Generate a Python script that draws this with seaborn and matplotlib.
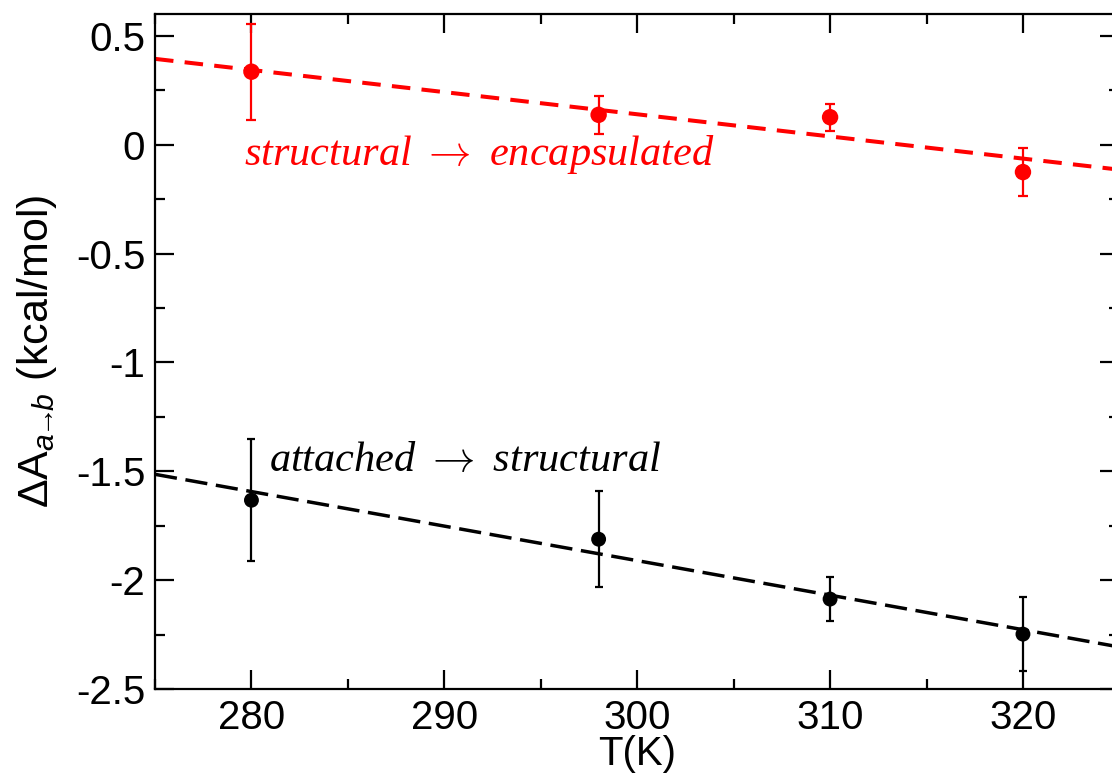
import numpy as np
import pandas as pd
import matplotlib
matplotlib.use("Agg")
import matplotlib.pyplot as plt
import seaborn as sns
from matplotlib.ticker import MultipleLocator

# ---- data ----
T = [280, 298, 310, 320]
red_vals = [0.335, 0.137, 0.126, -0.126]
red_err = [0.22, 0.087, 0.062, 0.11]
black_vals = [-1.633, -1.812, -2.087, -2.248]
black_err = [0.28, 0.22, 0.10, 0.17]
fit_T = [275, 325]
red_fit = [0.394, -0.115]
black_fit = [-1.514, -2.307]
xtick_vals = [280, 290, 300, 310, 320]
xtick_labels = ["280", "290", "300", "310", "320"]
ytick_vals = [0.5, 0, -0.5, -1, -1.5, -2, -2.5]
ytick_labels = ["0.5", "0", "-0.5", "-1", "-1.5", "-2", "-2.5"]
red_label = r"structural$\;\rightarrow\;$encapsulated"
black_label = r"attached$\;\rightarrow\;$structural"

sns.set_theme(style="ticks")
plt.rcParams["font.family"] = ["Liberation Sans", "DejaVu Sans"]
plt.rcParams["mathtext.fontset"] = "custom"
plt.rcParams["mathtext.rm"] = "Liberation Sans"
plt.rcParams["mathtext.it"] = "Liberation Sans:italic"
plt.rcParams["mathtext.sf"] = "Liberation Sans"

fig = plt.figure(figsize=(11.12, 7.79), dpi=100)
ax = fig.add_axes([155 / 1112, 90 / 779, (1119.4 - 155) / 1112, 675 / 779])

df_pts = pd.DataFrame({
    "T": T + T,
    "dA": red_vals + black_vals,
    "series": ["red"] * len(T) + ["black"] * len(T),
})
df_fit = pd.DataFrame({
    "T": fit_T + fit_T,
    "dA": red_fit + black_fit,
    "series": ["red"] * 2 + ["black"] * 2,
})

sns.lineplot(data=df_fit[df_fit.series == "red"], x="T", y="dA", color="#ff0000",
             lw=2.9, ls=(0, (4.6, 2.8)), ax=ax, legend=False)
sns.lineplot(data=df_fit[df_fit.series == "black"], x="T", y="dA", color="black",
             lw=2.5, ls=(0, (6.4, 2.5)), ax=ax, legend=False)

ax.errorbar(T, red_vals, yerr=red_err, fmt="none", ecolor="#ff0000",
            elinewidth=1.6, capsize=3.6, capthick=1.6, zorder=3)
ax.errorbar(T, black_vals, yerr=black_err, fmt="none", ecolor="black",
            elinewidth=1.6, capsize=3.2, capthick=1.6, zorder=3)

sns.scatterplot(data=df_pts[df_pts.series == "red"], x="T", y="dA", color="#ff0000",
                s=140, edgecolor="none", legend=False, ax=ax, zorder=4)
sns.scatterplot(data=df_pts[df_pts.series == "black"], x="T", y="dA", color="black",
                s=115, edgecolor="none", legend=False, ax=ax, zorder=4)

ax.set_xlim(275, 325)
ax.set_ylim(-2.5, 0.6)
ax.set_xticks(xtick_vals)
ax.set_xticklabels(xtick_labels)
ax.set_yticks(ytick_vals)
ax.set_yticklabels(ytick_labels)
ax.xaxis.set_minor_locator(MultipleLocator(5))
ax.yaxis.set_minor_locator(MultipleLocator(0.25))
ax.tick_params(which="both", direction="in", top=True, right=True, width=1.6,
               color="black", labelsize=29, labelcolor="black")
ax.tick_params(which="major", length=14)
ax.tick_params(which="minor", length=7)
ax.tick_params(axis="x", which="major", pad=7)
ax.tick_params(axis="y", which="major", pad=7)
for sp in ax.spines.values():
    sp.set_linewidth(1.6)
    sp.set_color("black")
    sp.set_visible(True)

ax.set_xlabel("T(K)", fontsize=29, color="black", labelpad=-1)
ax.set_ylabel(r"$\Delta\mathrm{A}_{a\!\!\rightarrow\!\!b}$ (kcal/mol)", fontsize=31,
              color="black", labelpad=12)

ax.text(279.6, -0.092, red_label, color="#ff0000", fontsize=30.5, style="italic",
        family=["Liberation Serif", "DejaVu Serif"], math_fontfamily="cm",
        ha="left", va="baseline")
ax.text(280.9, -1.5, black_label, color="black", fontsize=30.5, style="italic",
        family=["Liberation Serif", "DejaVu Serif"], math_fontfamily="cm",
        ha="left", va="baseline")

fig.savefig("out.png", dpi=100)
